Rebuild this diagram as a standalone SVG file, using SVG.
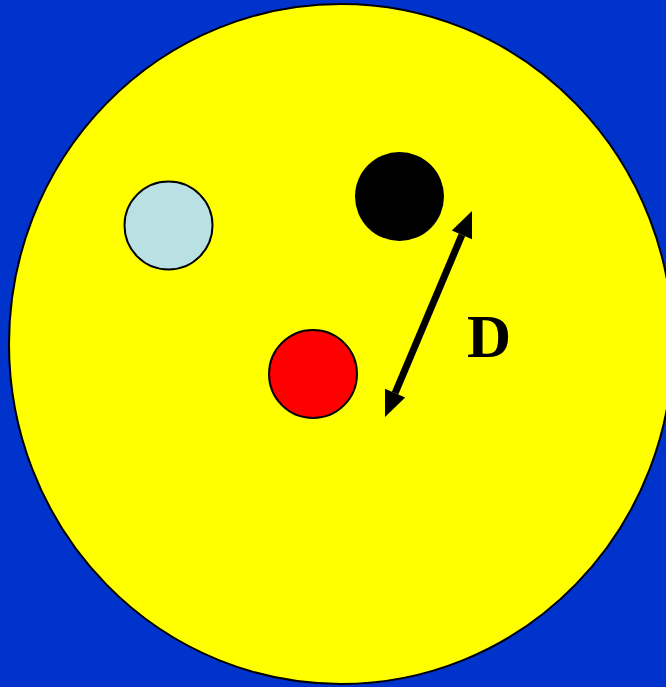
<svg xmlns="http://www.w3.org/2000/svg" width="666" height="687" viewBox="0 0 666 687">
<style>
.dot{stroke:#000;stroke-width:2}
.lbl{font-family:"Liberation Serif","Times New Roman",serif;font-weight:bold;font-size:61px;fill:#000}
</style>
<rect width="666" height="687" fill="#0033CC"/>
<g id="outer"><ellipse cx="341" cy="344" rx="332" ry="340" fill="#FFFF00" stroke="#000" stroke-width="2"/></g>
<g id="lightblue"><circle class="dot" cx="168.5" cy="225.5" r="44" fill="#B9E0E3"/></g>
<g id="black"><circle cx="399.5" cy="196.5" r="44.5" fill="#000"/></g>
<g id="red"><circle class="dot" cx="313" cy="374" r="44" fill="#FF0000"/></g>
<g id="connectors">
<line x1="395.1" y1="393.1" x2="461.9" y2="234.9" stroke="#000" stroke-width="7"/>
<polygon points="472,211 472,239.2 451.8,230.6" fill="#000"/>
<polygon points="385,417 405.2,397.4 385,388.8" fill="#000"/>
</g>
<g id="label"><text class="lbl" x="467" y="357">D</text></g>
</svg>
